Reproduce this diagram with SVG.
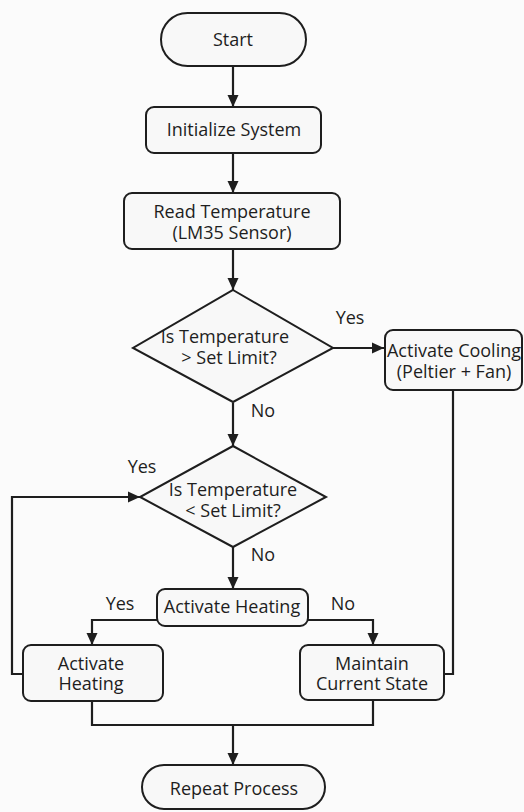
<svg xmlns="http://www.w3.org/2000/svg" width="524" height="812" viewBox="0 0 524 812">
<defs>
<marker id="ah" viewBox="0 0 12 12" refX="12" refY="6" markerWidth="12" markerHeight="12" markerUnits="userSpaceOnUse" orient="auto">
<path d="M0,0.5 L12,6 L0,11.5 z" fill="#1e1e1e"/>
</marker>
<style>
.n{fill:#f8f8f8;stroke:#1e1e1e;stroke-width:2}
.t{font-family:"Open Sans","Noto Sans",sans-serif;font-size:18px;fill:#1e1e1e;text-anchor:middle;dominant-baseline:central}
.c{fill:none;stroke:#1e1e1e;stroke-width:2.2}
.a{marker-end:url(#ah)}
</style>
</defs>
<rect width="524" height="812" fill="#fbfbfb"/>
<g id="connectors">
<path class="c a" d="M233,66 V107"/>
<path class="c a" d="M233,153 V193"/>
<path class="c a" d="M233,249 V290"/>
<path class="c a" d="M333,348 H384"/>
<path class="c" d="M453,390 V674 H445"/>
<path class="c a" d="M233,403 V446"/>
<path class="c a" d="M23,674 H12 V497 H140"/>
<path class="c a" d="M233,547 V589"/>
<path class="c a" d="M157,620 H92 V645"/>
<path class="c a" d="M308,620 H373 V645"/>
<path class="c" d="M92,701 V725 H373 V700"/>
<path class="c a" d="M233,725 V765"/>
</g>
<g id="start"><rect class="n" x="161" y="13" width="145" height="53" rx="26.5"/><text class="t" x="233" y="39" font-size="19">Start</text></g>
<g id="init"><rect class="n" x="146" y="107" width="175" height="46" rx="8"/><text class="t" x="234" y="129">Initialize System</text></g>
<g id="read"><rect class="n" x="124" y="193" width="216" height="56" rx="8"/><text class="t" x="232" y="211">Read Temperature</text><text class="t" x="232" y="232">(LM35 Sensor)</text></g>
<g id="dec1"><polygon class="n" points="233,290 333,348 233,402 133,348"/><text class="t" x="225" y="336">Is Temperature</text><text class="t" x="229" y="357">&gt; Set Limit?</text></g>
<g id="cool"><rect class="n" x="385" y="330" width="137" height="60" rx="8"/><text class="t" x="454" y="350" font-size="17">Activate Cooling</text><text class="t" x="454" y="371" font-size="17">(Peltier + Fan)</text></g>
<g id="dec2"><polygon class="n" points="233,446 326,497 233,547 140,497"/><text class="t" x="233" y="489">Is Temperature</text><text class="t" x="233" y="510">&lt; Set Limit?</text></g>
<g id="heatmid"><rect class="n" x="157" y="589" width="151" height="37" rx="8"/><text class="t" x="232" y="606">Activate Heating</text></g>
<g id="heat"><rect class="n" x="23" y="645" width="140" height="56" rx="8"/><text class="t" x="91" y="663">Activate</text><text class="t" x="91" y="683">Heating</text></g>
<g id="maintain"><rect class="n" x="300" y="645" width="144" height="55" rx="8"/><text class="t" x="372" y="663">Maintain</text><text class="t" x="372" y="683">Current State</text></g>
<g id="repeat"><rect class="n" x="142" y="765" width="183" height="44" rx="22"/><text class="t" x="234" y="788">Repeat Process</text></g>
<g id="labels">
<text class="t" x="350" y="317">Yes</text>
<text class="t" x="263" y="410">No</text>
<text class="t" x="142" y="466">Yes</text>
<text class="t" x="263" y="554">No</text>
<text class="t" x="120" y="603">Yes</text>
<text class="t" x="343" y="603">No</text>
</g>
</svg>
